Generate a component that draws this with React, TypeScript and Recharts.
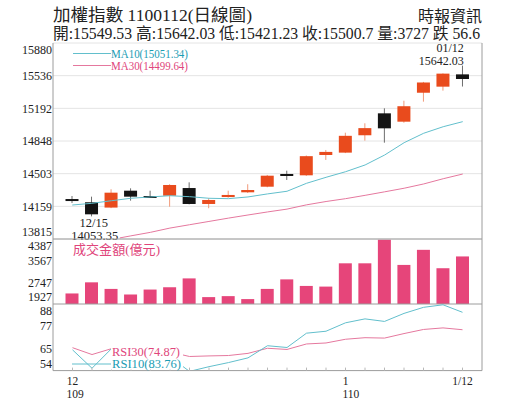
import React from "react";
import {
  ComposedChart,
  Bar,
  Line,
  XAxis,
  YAxis,
  CartesianGrid,
  ReferenceLine,
  ReferenceDot,
} from "recharts";

// ---------- data ----------
const DATES = [
  "12/14", "12/15", "12/16", "12/17", "12/18", "12/21", "12/22", "12/23", "12/24", "12/25",
  "12/28", "12/29", "12/30", "12/31", "01/04", "01/05", "01/06", "01/07", "01/08", "01/11", "01/12",
];
const OPEN = [14236, 14202, 14146, 14324, 14268, 14271, 14352, 14184, 14257, 14307, 14366, 14500, 14486, 14700, 14725, 14908, 15139, 15051, 15356, 15420, 15549.53];
const HIGH = [14268, 14261, 14339, 14349, 14324, 14392, 14412, 14244, 14324, 14392, 14490, 14535, 14695, 14753, 14935, 15034, 15192, 15272, 15470, 15560, 15642.03];
const LOW = [14194, 14053.35, 14140, 14219, 14250, 14155, 14180, 14139, 14250, 14300, 14360, 14437, 14480, 14648, 14720, 14851, 14830, 15040, 15262, 15378, 15421.23];
const CLOSE = [14215, 14075, 14303, 14261, 14250, 14384, 14184, 14226, 14279, 14331, 14482, 14483, 14687.7, 14732.53, 14902.03, 14983.13, 14981, 15214, 15463.95, 15557.29, 15500.7];
const MA10 = [14173, 14191, 14218, 14244, 14258, 14271, 14261, 14244, 14240, 14258, 14290, 14318, 14402, 14465, 14524, 14595, 14700, 14830, 14929, 14998, 15051.34];
const MA30 = [13740, 13775, 13810, 13848, 13885, 13930, 13965, 14000, 14035, 14068, 14100, 14130, 14175, 14210, 14240, 14275, 14312, 14350, 14395, 14450, 14499.64];
const VOL = [2326, 2747, 2498, 2288, 2474, 2561, 2896, 2188, 2225, 2113, 2498, 2859, 2611, 2586, 3467, 3467, 4360, 3406, 3977, 3281, 3727];
const RSI10 = [64.6, 55.2, 65.2, 62, 60, 61, 53.6, 56, 58.1, 60.5, 66.7, 65.8, 73.1, 74.1, 78.4, 80.4, 79.1, 83.2, 86.3, 87.6, 83.76];
const RSI30 = [65.7, 62.2, 65.2, 64, 63, 63.5, 61.2, 61.5, 61.7, 62.8, 65.4, 64.8, 67.6, 68.1, 70.0, 70.8, 70.6, 72.9, 75.0, 75.8, 74.87];

const PRICE_TICKS = [13815, 14159.17, 14503.33, 14847.5, 15191.67, 15535.83, 15880];
const VOL_TICKS = [1927, 2747, 3567, 4387];
const RSI_TICKS = [54, 65.33, 76.67, 88];
const X_LABEL_TOP = ["12", "", "", "", "", "", "", "", "", "", "", "", "", "", "1", "", "", "", "", "", "1/12"];
const X_LABEL_BOTTOM = ["109", "", "", "", "", "", "", "", "", "", "", "", "", "", "110", "", "", "", "", "", ""];

const TITLE = "加權指數 1100112(日線圖)";
const SOURCE = "時報資訊";
const QUOTE = "開:15549.53 高:15642.03 低:15421.23 收:15500.7 量:3727 跌 56.6";

// ---------- styles ----------
const SERIF = "'Liberation Serif', 'Times New Roman', 'Noto Sans CJK TC', serif";
const ORANGE = "#e94b1d";
const BLACK = "#141414";
const TEAL_LINE = "#62bfcc";
const TEAL_TEXT = "#1a9cb3";
const PINK_LINE = "#e5789e";
const PINK_TEXT = "#e0457b";
const VOL_PINK = "#e6457a";
const BORDER = "#9c9c9c";
const GRID = "#e4e4e4";

const rows = DATES.map((d, i) => ({
  d,
  open: OPEN[i],
  high: HIGH[i],
  low: LOW[i],
  close: CLOSE[i],
  ma10: MA10[i],
  ma30: MA30[i],
  vol: VOL[i],
  rsi10: RSI10[i],
  rsi30: RSI30[i],
}));

const W = 515;
const H = 413;
// band scale (charts with bars) vs point scale (line-only chart)
const X_PAD_BAND = { left: 9.5, right: 9.5 };
const X_PAD_POINT = { left: 19.5, right: 19.5 };

const Candle = (props: any) => {
  const { x, y, width, height, payload } = props;
  if (!payload) return null;
  const { open, close, high, low } = payload;
  const top = Math.min(y, y + height);
  const h = Math.abs(height);
  const ratio = high - low > 0 ? h / (high - low) : 0;
  const yOf = (v: number) => top + (high - v) * ratio;
  const up = close >= open;
  const color = up ? ORANGE : BLACK;
  const wick = up ? "#f19a7a" : "#6e6e6e";
  const cx = x + width / 2;
  const bTop = yOf(Math.max(open, close));
  const bBot = yOf(Math.min(open, close));
  const bh = Math.max(bBot - bTop, 2);
  return (
    <g>
      <line x1={cx} x2={cx} y1={top} y2={top + h} stroke={wick} strokeWidth={1} />
      <rect x={x} y={bTop} width={width} height={bh} fill={color} />
    </g>
  );
};

const makeYTick = (min: number, max: number) => (props: any) => {
  const { x, y, payload } = props;
  const v = payload.value;
  const dy = Math.abs(v - min) < 1e-6 ? -7 : Math.abs(v - max) < 1e-6 ? 7 : 0;
  return (
    <text x={x} y={y + dy} dy="0.35em" textAnchor="end" fontSize={12} fill="#222" fontFamily={SERIF}>
      {Math.round(v)}
    </text>
  );
};

const XTick = (props: any) => {
  const { x, y, index } = props;
  const a = X_LABEL_TOP[index];
  const b = X_LABEL_BOTTOM[index];
  const w = a ? a.length * 6 : 0;
  return (
    <g>
      <line x1={x} x2={x} y1={y - 3} y2={y} stroke="#b8b8b8" />
      {a ? (
        <text x={x} y={y + 14.5} textAnchor="middle" fontSize={11.5} fill="#222" fontFamily={SERIF}>
          {a}
        </text>
      ) : null}
      {b ? (
        <text x={x - w / 2} y={y + 27} textAnchor="start" fontSize={11.5} fill="#222" fontFamily={SERIF}>
          {b}
        </text>
      ) : null}
    </g>
  );
};

const HighNote = (props: any) => {
  const { cx, cy } = props;
  return (
    <g>
      <text x={cx + 1} y={cy - 13.5} textAnchor="end" fontSize={12} fill="#222" fontFamily={SERIF}>
        {DATES[DATES.length - 1]}
      </text>
      <text x={cx + 1} y={cy - 1} textAnchor="end" fontSize={12} fill="#222" fontFamily={SERIF}>
        {HIGH[HIGH.length - 1].toFixed(2)}
      </text>
    </g>
  );
};

const lowIdx = LOW.indexOf(Math.min(...LOW));

const LowNote = (props: any) => {
  const { cx, cy } = props;
  return (
    <g>
      <rect x={cx - 20} y={cy + 1} width={48} height={25} fill="#fff" />
      <text x={cx + 2} y={cy + 11} textAnchor="middle" fontSize={12.5} fill="#222" fontFamily={SERIF}>
        {DATES[lowIdx]}
      </text>
      <text x={cx + 3} y={cy + 23.5} textAnchor="middle" fontSize={12.5} fill="#222" fontFamily={SERIF}>
        {LOW[lowIdx].toFixed(2)}
      </text>
    </g>
  );
};

const abs: React.CSSProperties = { position: "absolute", left: 0, top: 0 };

export default function App() {
  return (
    <div style={{ position: "absolute", left: 0, top: 0, width: W, height: H, background: "#fff", overflow: "hidden" }}>
      {/* price panel */}
      <div style={abs}>
        <ComposedChart width={W} height={H} data={rows} margin={{ top: 43, right: 0, bottom: 174, left: 0 }}>
          <CartesianGrid horizontal vertical={false} stroke={GRID} />
          <XAxis dataKey="d" hide padding={X_PAD_BAND} />
          <YAxis
            domain={[13815, 15880]}
            ticks={PRICE_TICKS}
            interval={0}
            allowDataOverflow
            width={53}
            tickLine={false}
            tickSize={0}
            tickMargin={1}
            axisLine={{ stroke: BORDER }}
            tick={makeYTick(13815, 15880)}
          />
          <YAxis yAxisId="r" orientation="right" domain={[13815, 15880]} width={33} tick={false} tickLine={false} axisLine={{ stroke: BORDER }} />
          <Line dataKey="ma30" stroke={PINK_LINE} strokeWidth={1} dot={false} isAnimationActive={false} />
          <Line dataKey="ma10" stroke={TEAL_LINE} strokeWidth={1} dot={false} isAnimationActive={false} />
          <Bar dataKey={(r: any) => [r.low, r.high]} barSize={13} shape={<Candle />} isAnimationActive={false} />
          <ReferenceDot x={DATES[DATES.length - 1]} y={HIGH[HIGH.length - 1]} r={0} ifOverflow="visible" shape={(p: any) => <HighNote {...p} />} />
          <ReferenceDot x={DATES[lowIdx]} y={LOW[lowIdx]} r={0} ifOverflow="visible" shape={(p: any) => <LowNote {...p} />} />
        </ComposedChart>
      </div>

      {/* volume panel */}
      <div style={abs}>
        <ComposedChart width={W} height={H} data={rows} margin={{ top: 239, right: 0, bottom: 109, left: 0 }}>
          <XAxis dataKey="d" hide padding={X_PAD_BAND} />
          <YAxis
            domain={[1927, 4387]}
            ticks={VOL_TICKS}
            interval={0}
            allowDataOverflow
            width={53}
            tickLine={false}
            tickSize={0}
            tickMargin={1}
            axisLine={{ stroke: BORDER }}
            tick={makeYTick(1927, 4387)}
          />
          <YAxis yAxisId="r" orientation="right" domain={[1927, 4387]} width={33} tick={false} tickLine={false} axisLine={{ stroke: BORDER }} />
          <Bar dataKey="vol" fill={VOL_PINK} barSize={13} isAnimationActive={false} />
          <ReferenceLine y={4387} stroke={BORDER} ifOverflow="visible" />
          <ReferenceLine y={1927} stroke={BORDER} ifOverflow="visible" />
        </ComposedChart>
      </div>

      {/* RSI panel */}
      <div style={abs}>
        <ComposedChart width={W} height={H} data={rows} margin={{ top: 304, right: 0, bottom: 12.4, left: 0 }}>
          <XAxis
            dataKey="d"
            padding={X_PAD_POINT}
            height={30}
            interval={0}
            tickLine={false}
            tickSize={0}
            tickMargin={0}
            axisLine={{ stroke: BORDER }}
            tick={<XTick />}
          />
          <YAxis
            domain={[54, 88]}
            ticks={RSI_TICKS}
            interval={0}
            allowDataOverflow
            width={53}
            tickLine={false}
            tickSize={0}
            tickMargin={1}
            axisLine={{ stroke: BORDER }}
            tick={makeYTick(54, 88)}
          />
          <YAxis yAxisId="r" orientation="right" domain={[54, 88]} width={33} tick={false} tickLine={false} axisLine={{ stroke: BORDER }} />
          <Line dataKey="rsi30" stroke={PINK_LINE} strokeWidth={1} dot={false} isAnimationActive={false} />
          <Line dataKey="rsi10" stroke={TEAL_LINE} strokeWidth={1} dot={false} isAnimationActive={false} />
        </ComposedChart>
      </div>

      {/* texts / legends */}
      <svg width={W} height={H} style={{ ...abs, pointerEvents: "none" }}>
        <g fontFamily={SERIF}>
          <text x={53} y={21} fontSize={17} fill="#222" textLength={199} lengthAdjust="spacingAndGlyphs">
            {TITLE}
          </text>
          <text x={482} y={22} fontSize={16} fill="#222" textAnchor="end">
            {SOURCE}
          </text>
          <text x={53} y={38.5} fontSize={16} fill="#222" textLength={427} lengthAdjust="spacingAndGlyphs">
            {QUOTE}
          </text>

          <line x1={73} x2={111} y1={53.5} y2={53.5} stroke={TEAL_LINE} />
          <text x={111} y={57.5} fontSize={11.5} fill={TEAL_TEXT} textLength={77} lengthAdjust="spacingAndGlyphs">
            {`MA10(${MA10[MA10.length - 1].toFixed(2)})`}
          </text>
          <line x1={73} x2={111} y1={65.5} y2={65.5} stroke={PINK_LINE} />
          <text x={111} y={70} fontSize={11.5} fill={PINK_TEXT} textLength={77} lengthAdjust="spacingAndGlyphs">
            {`MA30(${MA30[MA30.length - 1].toFixed(2)})`}
          </text>

          <text x={73} y={253.5} fontSize={13} fill={PINK_TEXT} textLength={87} lengthAdjust="spacingAndGlyphs">
            成交金額(億元)
          </text>

          <rect x={111} y={342} width={72} height={27.5} fill="#fff" />
          <text x={112} y={355.5} fontSize={12} fill={PINK_TEXT} textLength={68} lengthAdjust="spacingAndGlyphs">
            {`RSI30(${RSI30[RSI30.length - 1].toFixed(2)})`}
          </text>
          <line x1={72} x2={111} y1={364} y2={364} stroke={TEAL_LINE} />
          <text x={112} y={368} fontSize={12} fill={TEAL_TEXT} textLength={69} lengthAdjust="spacingAndGlyphs">
            {`RSI10(${RSI10[RSI10.length - 1].toFixed(2)})`}
          </text>
        </g>
      </svg>
    </div>
  );
}
